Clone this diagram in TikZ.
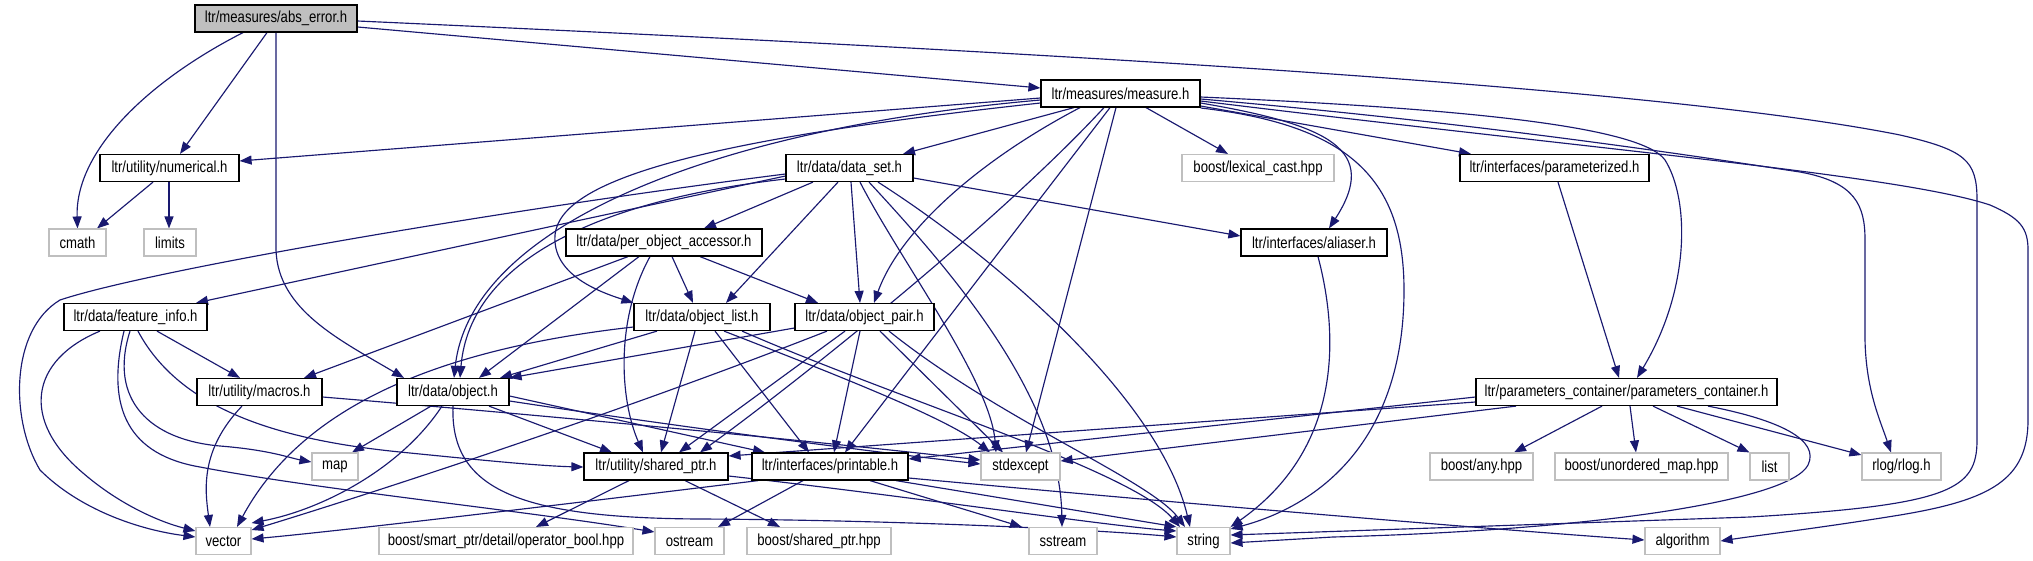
\documentclass[tikz,border=0pt]{standalone}
\usepackage{fontspec}
\newfontfamily\dox[FakeStretch=0.82]{Liberation Sans}
\usetikzlibrary{arrows.meta}
\definecolor{edgec}{HTML}{191970}
\definecolor{extc}{HTML}{BFBFBF}
\pgfdeclarelayer{bg}
\pgfsetlayers{bg,main}
\tikzset{
  box/.style={rectangle, inner sep=0pt, minimum height=27pt, fill=white, font=\dox\fontsize{16}{18}\selectfont, text=black},
  int/.style={box, draw=black, line width=1.2pt},
  ext/.style={box, draw=extc, line width=1.1pt},
  root/.style={int, fill=extc},
  e/.style={draw=edgec, line width=1.15pt, -{Triangle[length=12pt,width=9pt]}},
}
\begin{document}
\begin{tikzpicture}[x=1pt,y=-1pt]
\useasboundingbox (0,0) rectangle (2033,560);
% level 0
\node[root, minimum width=162pt] (abs) at (276,18.5) {ltr/measures/abs\_error.h};
% level 1
\node[int, minimum width=159pt] (measure) at (1120.5,93.5) {ltr/measures/measure.h};
% level 2
\node[int, minimum width=139pt] (numerical) at (169.5,168) {ltr/utility/numerical.h};
\node[int, minimum width=127pt] (dataset) at (849.5,168) {ltr/data/data\_set.h};
\node[ext, minimum width=152pt] (lexical) at (1258,168) {boost/lexical\_cast.hpp};
\node[int, minimum width=189pt] (param) at (1554.5,168) {ltr/interfaces/parameterized.h};
% level 3
\node[ext, minimum width=57pt] (cmath) at (77.5,242.5) {cmath};
\node[ext, minimum width=52pt] (limits) at (170,242.5) {limits};
\node[int, minimum width=196pt] (poa) at (664,242.5) {ltr/data/per\_object\_accessor.h};
\node[int, minimum width=146pt] (aliaser) at (1314,242.5) {ltr/interfaces/aliaser.h};
% level 4
\node[int, minimum width=143pt] (finfo) at (135.5,317) {ltr/data/feature\_info.h};
\node[int, minimum width=136pt] (olist) at (702,317) {ltr/data/object\_list.h};
\node[int, minimum width=139pt] (opair) at (864.5,317) {ltr/data/object\_pair.h};
% level 5
\node[int, minimum width=125pt] (macros) at (259.5,392) {ltr/utility/macros.h};
\node[int, minimum width=112pt] (object) at (453,392) {ltr/data/object.h};
\node[int, minimum width=301pt] (pc) at (1626.5,392) {ltr/parameters\_container/parameters\_container.h};
% level 6
\node[ext, minimum width=46pt] (map) at (335,466.5) {map};
\node[int, minimum width=144pt] (sptr) at (656,466.5) {ltr/utility/shared\_ptr.h};
\node[int, minimum width=156pt] (printable) at (830,466.5) {ltr/interfaces/printable.h};
\node[ext, minimum width=79pt] (stdexcept) at (1020.5,466.5) {stdexcept};
\node[ext, minimum width=103pt] (any) at (1481.5,466.5) {boost/any.hpp};
\node[ext, minimum width=173pt] (umap) at (1641.5,466.5) {boost/unordered\_map.hpp};
\node[ext, minimum width=39pt] (list) at (1769.5,466.5) {list};
\node[ext, minimum width=79pt] (rlog) at (1901.5,466.5) {rlog/rlog.h};
% level 7
\node[ext, minimum width=55pt] (vector) at (223.5,541) {vector};
\node[ext, minimum width=254pt] (opbool) at (506,541) {boost/smart\_ptr/detail/operator\_bool.hpp};
\node[ext, minimum width=69pt] (ostream) at (689.5,541) {ostream};
\node[ext, minimum width=144pt] (bsptr) at (819,541) {boost/shared\_ptr.hpp};
\node[ext, minimum width=68pt] (sstream) at (1063,541) {sstream};
\node[ext, minimum width=53pt] (string) at (1203.5,541) {string};
\node[ext, minimum width=75pt] (algorithm) at (1682.5,541) {algorithm};

\begin{pgfonlayer}{bg}
\fill[white] (0,0) rectangle (2033,560);
% abs_error
\draw[e] (abs.south -| 243,0) .. controls (150,80) and (75,150) .. (cmath.north);
\draw[e] (abs.south -| 267,0) -- (numerical.north -| 180,0);
\draw[e] (abs.south -| 276,0) -- (276,250) .. controls (278,310) and (340,340) .. (object.north -| 404,0);
\draw[e] (abs.east |- 0,27) -- (measure.west |- 0,88);
\draw[e] (abs.east |- 0,21) .. controls (1000,50) and (1650,85) .. (1900,135) .. controls (1965,150) and (1977,160) .. (1977,200) -- (1977,440) .. controls (1977,490) and (1950,505) .. (1750,517) -- (string.east |- 0,535);
% measure
\draw[e] (measure.west |- 0,98) -- (numerical.east |- 0,161);
\draw[e] (measure.south -| 1074,0) -- (dataset.north -| 903,0);
\draw[e] (measure.south -| 1146,0) -- (lexical.north -| 1228,0);
\draw[e] (measure.east |- 0,103) .. controls (1330,125) and (1380,150) .. (aliaser.north -| 1329,0);
\draw[e] (measure.east |- 0,106) -- (param.north -| 1471,0);
\draw[e] (measure.east |- 0,97) .. controls (1450,108) and (1640,125) .. (1665,160) .. controls (1690,200) and (1690,290) .. (pc.north -| 1637,0);
\draw[e] (measure.east |- 0,99) .. controls (1500,125) and (1720,160) .. (1800,172) .. controls (1855,182) and (1865,205) .. (1865,240) -- (1865,340) .. controls (1866,390) and (1880,420) .. (rlog.north -| 1891,0);
\draw[e] (measure.east |- 0,101) .. controls (1600,150) and (1900,175) .. (1990,205) .. controls (2020,218) and (2028,228) .. (2028,250) -- (2028,420) .. controls (2028,480) and (1990,500) .. (1900,515) .. controls (1820,528) and (1760,535) .. (algorithm.east);
\draw[e] (measure.east |- 0,108) .. controls (1350,125) and (1404,180) .. (1404,290) .. controls (1404,440) and (1320,505) .. (string.east |- 0,529);
\draw[e] (measure.south -| 1116,0) -- (stdexcept.north -| 1026,0);
\draw[e] (measure.west |- 0,100) .. controls (700,130) and (470,230) .. (object.north -| 454,0);
\draw[e] (measure.west |- 0,103) .. controls (700,140) and (560,180) .. (555,235) .. controls (552,275) and (600,292) .. (olist.north west);
\draw[e] (measure.south -| 1080,0) .. controls (980,160) and (900,230) .. (opair.north -| 874,0);
\draw[e] (measure.south -| 1104,0) .. controls (1000,220) and (800,380) .. (sptr.north -| 700,0);
\draw[e] (measure.south -| 1110,0) -- (printable.north -| 845,0);
% data_set
\draw[e] (dataset.west |- 0,176) -- (finfo.north -| 196,0);
\draw[e] (dataset.west |- 0,174) .. controls (500,210) and (150,270) .. (60,300) .. controls (10,330) and (10,420) .. (40,470) .. controls (80,510) and (140,530) .. (vector.west |- 0,537);
\draw[e] (dataset.west |- 0,179) .. controls (600,200) and (470,260) .. (object.north -| 460,0);
\draw[e] (dataset.south -| 813,0) -- (poa.north -| 704,0);
\draw[e] (dataset.south -| 838,0) -- (olist.north -| 726,0);
\draw[e] (dataset.south -| 851,0) -- (opair.north -| 860,0);
\draw[e] (dataset.east |- 0,178) -- (aliaser.west |- 0,236);
\draw[e] (dataset.south -| 860,0) .. controls (900,260) and (990,380) .. (stdexcept.north -| 996,0);
\draw[e] (dataset.south -| 869,0) .. controls (960,280) and (1060,400) .. (sstream.north -| 1062,0);
\draw[e] (dataset.south -| 878,0) .. controls (1000,260) and (1160,400) .. (string.north -| 1190,0);
% per_object_accessor
\draw[e] (poa.south -| 628,0) -- (macros.north -| 304,0);
\draw[e] (poa.south -| 639,0) -- (object.north -| 479,0);
\draw[e] (poa.south -| 650,0) .. controls (615,320) and (620,400) .. (sptr.north -| 643,0);
\draw[e] (poa.south -| 672,0) -- (olist.north -| 693,0);
\draw[e] (poa.south -| 700,0) -- (opair.north -| 818,0);
% feature_info
\draw[e] (finfo.south -| 100,0) .. controls (30,360) and (20,420) .. (83,473) .. controls (120,505) and (160,522) .. (vector.west |- 0,531);
\draw[e] (finfo.south -| 130,0) .. controls (108,400) and (150,440) .. (220,446) .. controls (270,450) and (290,458) .. (map.west |- 0,462);
\draw[e] (finfo.south -| 124,0) .. controls (105,410) and (130,455) .. (200,467) .. controls (320,490) and (520,510) .. (ostream.west |- 0,532);
\draw[e] (finfo.south -| 138,0) .. controls (180,410) and (280,440) .. (400,452) .. controls (480,460) and (540,466) .. (sptr.west |- 0,467);
\draw[e] (finfo.south -| 157,0) -- (macros.north -| 240,0);
% object_list
\draw[e] (olist.south -| 657,0) -- (object.north -| 500,0);
\draw[e] (olist.west |- 0,327) .. controls (430,350) and (300,410) .. (vector.north -| 237,0);
\draw[e] (olist.south -| 695,0) -- (sptr.north -| 661,0);
\draw[e] (olist.south -| 715,0) -- (printable.north -| 809,0);
\draw[e] (olist.south -| 724,0) .. controls (850,380) and (950,420) .. (stdexcept.north -| 990,0);
\draw[e] (olist.south -| 742,0) .. controls (900,400) and (1130,470) .. (string.north -| 1180,0);
% object_pair
\draw[e] (opair.west |- 0,328) -- (object.north east);
\draw[e] (opair.south -| 827,0) .. controls (600,420) and (350,500) .. (vector.east |- 0,530);
\draw[e] (opair.south -| 845,0) -- (sptr.north -| 679,0);
\draw[e] (opair.south -| 860,0) -- (printable.north -| 834,0);
\draw[e] (opair.south -| 880,0) -- (stdexcept.north -| 1003,0);
\draw[e] (opair.south -| 889,0) .. controls (1000,420) and (1150,480) .. (string.north -| 1185,0);
% macros
\draw[e] (macros.south -| 242,0) .. controls (200,450) and (205,490) .. (vector.north -| 210,0);
\draw[e] (macros.east |- 0,397) .. controls (600,420) and (850,445) .. (stdexcept.west |- 0,460);
% object
\draw[e] (object.south -| 431,0) -- (map.north -| 352,0);
\draw[e] (object.south -| 442,0) .. controls (400,470) and (320,510) .. (vector.east |- 0,523);
\draw[e] (object.south -| 489,0) -- (sptr.north -| 612,0);
\draw[e] (object.east |- 0,396) -- (printable.north -| 765,0);
\draw[e] (object.east |- 0,401) .. controls (700,430) and (900,455) .. (stdexcept.west |- 0,464);
\draw[e] (object.south -| 453,0) .. controls (450,490) and (520,518) .. (700,519) .. controls (900,520) and (1100,530) .. (string.west |- 0,537);
% shared_ptr
\draw[e] (sptr.south -| 629,0) -- (opbool.north -| 536,0);
\draw[e] (sptr.south -| 685,0) -- (bsptr.north -| 780,0);
\draw[e] (sptr.east |- 0,476) .. controls (900,495) and (1100,525) .. (string.west |- 0,531);
% printable
\draw[e] (printable.south -| 758,0) .. controls (600,500) and (350,530) .. (vector.east |- 0,539);
\draw[e] (printable.south -| 803,0) -- (ostream.north -| 718,0);
\draw[e] (printable.south -| 870,0) -- (sstream.north -| 1022,0);
\draw[e] (printable.south -| 896,0) -- (string.north west);
\draw[e] (printable.east |- 0,478) .. controls (1200,505) and (1500,530) .. (algorithm.west |- 0,540);
% parameters_container
\draw[e] (pc.west |- 0,397) -- (printable.east |- 0,459);
\draw[e] (pc.west |- 0,402) -- (sptr.east |- 0,456);
\draw[e] (pc.south -| 1516,0) -- (stdexcept.east |- 0,461);
\draw[e] (pc.south -| 1602,0) -- (any.north -| 1514,0);
\draw[e] (pc.south -| 1630,0) -- (umap.north -| 1636,0);
\draw[e] (pc.south -| 1653,0) -- (list.north west);
\draw[e] (pc.south -| 1677,0) -- (rlog.west |- 0,455);
\draw[e] (pc.south -| 1708,0) .. controls (1780,420) and (1820,440) .. (1808,465) .. controls (1790,500) and (1600,530) .. (1333,537) -- (string.east |- 0,543);
% others
\draw[e] (param.south -| 1558,0) -- (pc.north -| 1619,0);
\draw[e] (aliaser.south -| 1318,0) .. controls (1340,340) and (1340,450) .. (string.north east);
\draw[e] (numerical.south -| 153,0) -- (cmath.north -| 97,0);
\draw[e] (numerical.south -| 169,0) -- (limits.north -| 169,0);
\end{pgfonlayer}
\end{tikzpicture}
\end{document}
